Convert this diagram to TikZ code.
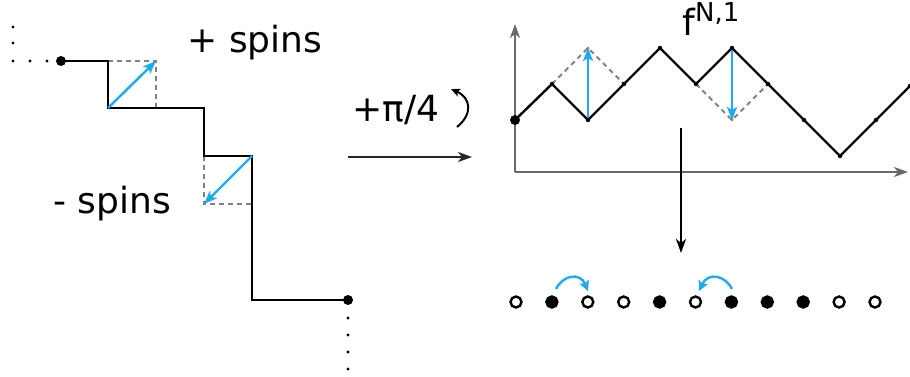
\documentclass[tikz,border=0pt]{standalone}
\usepackage{fontspec}
\setmainfont{DejaVu Sans}
\usetikzlibrary{arrows.meta}
\definecolor{spinblue}{RGB}{30,170,240}
\definecolor{axisgray}{RGB}{105,105,105}
\definecolor{dashgray}{RGB}{130,130,130}
\begin{document}
\begin{tikzpicture}[x=1pt,y=-1pt,
  walk/.style={line width=2.4pt, black, line join=miter},
  guide/.style={line width=1.8pt, dashgray, dash pattern=on 5pt off 4pt},
  spinarrow/.style={line width=2.4pt, spinblue, -{Stealth[length=13pt,width=10pt,inset=3pt]}},
  axisline/.style={line width=2.2pt, axisgray, -{Stealth[length=14pt,width=10pt,inset=4pt]}},
  maparrow/.style={line width=2.2pt, black!85, -{Stealth[length=14pt,width=10pt,inset=4pt]}},
  bigdot/.style={circle, fill=black, inner sep=0pt, minimum size=10pt},
  tinydot/.style={circle, fill=black, inner sep=0pt, minimum size=4.5pt},
  leaddot/.style={circle, fill=black, inner sep=0pt, minimum size=3.2pt},
  site/.style={circle, draw=black, line width=2.4pt, inner sep=0pt, minimum size=11pt},
  full/.style={site, fill=black},
  empty/.style={site, fill=white},
  label/.style={font=\fontsize{36}{40}\selectfont, inner sep=0pt, anchor=base}
]
\useasboundingbox (0,0) rectangle (910,377);

% ---------- left staircase ----------
\coordinate (s0) at (61,61);
\coordinate (s1) at (108,61);
\coordinate (s2) at (108,108);
\coordinate (s3) at (204,108);
\coordinate (s4) at (204,156);
\coordinate (s5) at (252,156);
\coordinate (s6) at (252,300);
\coordinate (s7) at (348,300);
\coordinate (u1) at (156,61);
\coordinate (u2) at (156,108);
\coordinate (d1) at (204,204);
\coordinate (d2) at (252,204);

\draw[guide] (s1) -- (u1) -- (u2);
\draw[guide] (s4) -- (d1) -- (d2);
\draw[walk] (s0) -- (s1) -- (s2) -- (s3) -- (s4) -- (s5) -- (s6) -- (s7);
\draw[spinarrow] (s2) -- (u1);
\draw[spinarrow] (s5) -- (d1);
\node[bigdot] (startL) at (s0) {};
\node[bigdot] (endL) at (s7) {};
\foreach \p [count=\i] in {(13,27),(13,43),(13,61),(30,61),(47,61),(348,318),(348,335),(348,352),(348,369)}
  \node[leaddot] (lead\i) at \p {};

\node[label] (plus) at (255,53) {+ spins};
\node[label] (minus) at (112,213) {- spins};

% ---------- rotation arrow ----------
\node[label] (rot) at (396,122) {+π/4};
\coordinate (c0) at (457,127);
\coordinate (c1) at (451,89);
\draw[line width=2pt, -{Stealth[length=9pt,width=8pt,inset=2pt]}] (c0) .. controls (473,114) and (471,98) .. (c1);
\coordinate (m0) at (348,157);
\coordinate (m1) at (472,157);
\draw[maparrow] (m0) -- (m1);

% ---------- height function ----------
\coordinate (o) at (515,172);
\coordinate (ytop) at (515,24);
\coordinate (xend) at (908,172);
\draw[axisline] (o) -- (ytop);
\draw[axisline] (o) -- (xend);

\coordinate (p0) at (515,120);
\coordinate (p1) at (552,84);
\coordinate (p2) at (588,120);
\coordinate (p3) at (624,84);
\coordinate (p4) at (660,48);
\coordinate (p5) at (696,84);
\coordinate (p6) at (732,48);
\coordinate (p7) at (768,84);
\coordinate (p8) at (804,120);
\coordinate (p9) at (840,156);
\coordinate (p10) at (876,120);
\coordinate (p11) at (910,86);
\coordinate (q1) at (588,48);
\coordinate (q2) at (732,120);

\draw[guide] (p1) -- (q1) -- (p3);
\draw[guide] (p5) -- (q2) -- (p7);
\draw[walk] (p0) -- (p1) -- (p2) -- (p3) -- (p4) -- (p5) -- (p6) -- (p7) -- (p8) -- (p9) -- (p10) -- (p11);
\draw[spinarrow] (p2) -- (q1);
\draw[spinarrow] (p6) -- (q2);
\node[bigdot] (startR) at (p0) {};
\foreach \k in {1,...,11}
  \node[tinydot] (v\k) at (p\k) {};
\node[circle, fill=dashgray, inner sep=0pt, minimum size=3pt] (g1) at (q1) {};
\node[circle, fill=dashgray, inner sep=0pt, minimum size=3pt] (g2) at (q2) {};

\node[label] (fN) at (711,36) {f\raisebox{14pt}{\fontsize{26}{28}\selectfont N,1}};

% ---------- projection ----------
\coordinate (a0) at (681,128);
\coordinate (a1) at (681,253);
\draw[maparrow, black] (a0) -- (a1);

% ---------- particle row ----------
\foreach \t [count=\i from 0] in {empty,full,empty,empty,full,empty,full,full,full,empty,empty}
  \node[\t] (n\i) at ({516+35.9*\i},302) {};

\draw[line width=2.4pt, spinblue, -{Stealth[length=10pt,width=10pt,inset=2pt]}]
  (556,289) .. controls (563,275) and (580,272) .. (588,291);
\draw[line width=2.4pt, spinblue, -{Stealth[length=10pt,width=10pt,inset=2pt]}]
  (732,289) .. controls (725,275) and (708,272) .. (699,291);
\end{tikzpicture}
\end{document}
